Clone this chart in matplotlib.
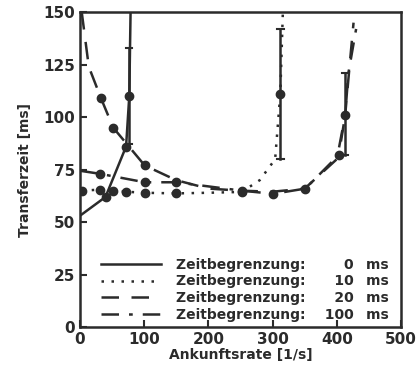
import numpy as np
import matplotlib
matplotlib.use("Agg")
import matplotlib.pyplot as plt

plt.rcParams['font.family'] = ['DejaVu Sans']
plt.rcParams['font.weight'] = 'bold'
plt.rcParams['axes.labelweight'] = 'bold'

ink = '#2b2b2b'

# Zeitbegrenzung 0 ms (durchgezogen)
x0 = [0, 40, 72, 77, 79]
y0 = [53, 62, 86, 110, 150]
m0 = [1, 2, 3]

# Zeitbegrenzung 10 ms (gepunktet)
x10 = [3, 32, 52, 72, 101, 150, 200, 252, 280, 304, 312, 316]
y10 = [65, 65.5, 65, 64.5, 64, 63.7, 64, 64.4, 70, 80, 111, 150]
m10 = [0, 1, 2, 3, 4, 5, 7, 10]

# Zeitbegrenzung 20 ms (gestrichelt)
x20 = [3, 14, 33, 52, 101, 150, 200, 250, 300, 350, 400, 413, 420, 426]
y20 = [150, 124, 109, 95, 77, 70, 66, 65, 64.5, 66, 80, 101, 125, 145]
m20 = [2, 3, 4]

# Zeitbegrenzung 100 ms (strich-punkt)
x100 = [0, 32, 101, 150, 252, 301, 351, 403, 413, 418, 430]
y100 = [74.5, 73, 69, 69, 65, 63.5, 66, 82, 101, 121, 142]
m100 = [1, 2, 3, 4, 5, 6, 7, 8]

# Fehlerbalken (x, unten, oben)
err_x = [77, 312, 413]
err_lo = [87, 80, 82]
err_hi = [133, 142, 121]

labels = ['Zeitbegrenzung:\u2007\u2007\u2007\u20070\u2007\u2009ms',
          'Zeitbegrenzung:\u2007\u2007\u200710\u2007\u2009ms',
          'Zeitbegrenzung:\u2007\u2007\u200720\u2007\u2009ms',
          'Zeitbegrenzung:\u2007\u2007100\u2007\u2009ms']

fig = plt.figure(figsize=(4.2, 3.8), dpi=100)
ax = fig.add_axes([0.19, 0.139, 0.765, 0.829])

styles = ['-', (0, (1, 3)), (0, (7, 5)), (0, (7, 4, 1.5, 4))]
series = [(x0, y0, m0), (x10, y10, m10), (x20, y20, m20), (x100, y100, m100)]
for (xs, ys, ms), ls, lab in zip(series, styles, labels):
    ax.plot(xs, ys, color=ink, lw=1.8, ls=ls, label=lab)
    ax.plot([xs[i] for i in ms], [ys[i] for i in ms], 'o', color=ink, ms=6)

for x, lo, hi in zip(err_x, err_lo, err_hi):
    ax.plot([x, x], [lo, hi], color=ink, lw=1.8)
    ax.plot([x - 5, x + 5], [hi, hi], color=ink, lw=1.5)
    ax.plot([x - 5, x + 5], [lo, lo], color=ink, lw=1.5)

ax.set_xlim(0, 500)
ax.set_ylim(0, 150)
ax.set_xticks([0, 100, 200, 300, 400, 500])
ax.set_yticks([0, 25, 50, 75, 100, 125, 150])
ax.tick_params(direction='in', labelsize=11, width=1.5, length=5, colors=ink)
for s in ax.spines.values():
    s.set_linewidth(1.8)
    s.set_color(ink)
ax.set_xlabel('Ankunftsrate [1/s]', fontsize=10, color=ink, labelpad=1)
ax.set_ylabel('Transferzeit [ms]', fontsize=10, color=ink, labelpad=8)

leg = ax.legend(loc='lower left', bbox_to_anchor=(0.04, -0.01), frameon=False,
                fontsize=10, handlelength=4.3, handletextpad=1.1,
                labelspacing=0.2, borderaxespad=0.2)
for t in leg.get_texts():
    t.set_color(ink)

fig.savefig('out.png', dpi=100)
